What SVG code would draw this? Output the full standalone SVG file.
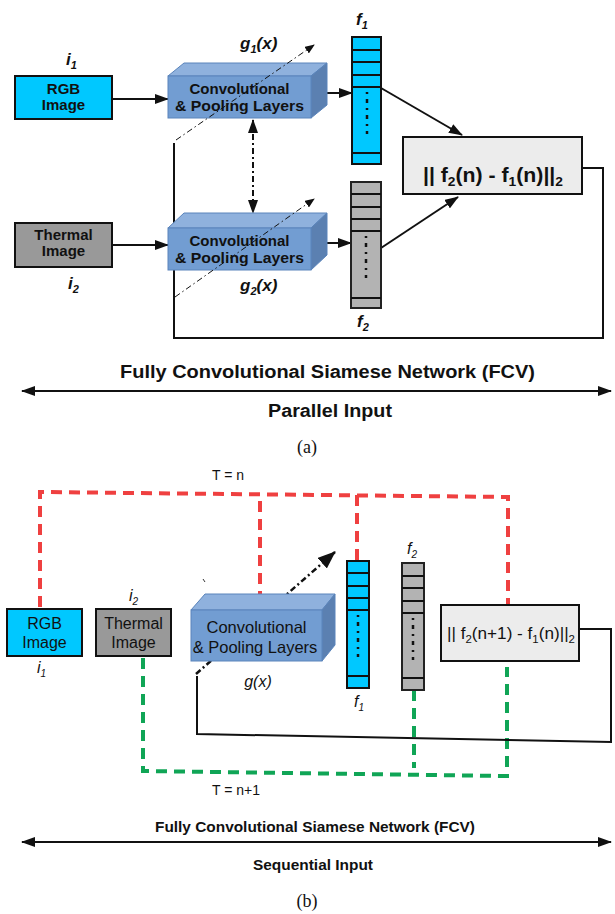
<svg xmlns="http://www.w3.org/2000/svg" width="615" height="914" viewBox="0 0 615 914">
<style>
text{font-family:"Liberation Sans",Arial,sans-serif;fill:#111}
.b{font-weight:bold}
.bi{font-weight:bold;font-style:italic}
.it{font-style:italic}
.box{stroke:#111;stroke-width:2}
.rgb{fill:#00c8ff}
.thr{fill:#999999}
.dist{fill:#ececec}
.front{fill:#729dd2;stroke:#5a84bb;stroke-width:1}
.top{fill:#8fb1dd;stroke:#5a84bb;stroke-width:1}
.side{fill:#5b80b1;stroke:#5a84bb;stroke-width:1}
.vec1{fill:#00c8ff;stroke:#111;stroke-width:2}
.vec2{fill:#b3b3b3;stroke:#222;stroke-width:2}
.cell{stroke:#111;stroke-width:2}
.dots{stroke:#111;stroke-width:2.5;stroke-dasharray:2,5,4,5}
.ln{fill:none;stroke:#111;stroke-width:2}
.red{fill:none;stroke:#ef4040;stroke-width:4;stroke-dasharray:11,7}
.grn{fill:none;stroke:#10a556;stroke-width:4;stroke-dasharray:11,7}
</style>
<defs>
<marker id="ah" viewBox="0 0 14 10" refX="13" refY="5" markerWidth="14" markerHeight="10" markerUnits="userSpaceOnUse" orient="auto-start-reverse"><path d="M0,0 L14,5 L0,10 z" fill="#111"/></marker>
<marker id="ahs" viewBox="0 0 10 8" refX="9" refY="4" markerWidth="10" markerHeight="8" markerUnits="userSpaceOnUse" orient="auto"><path d="M0,0 L10,4 L0,8 z" fill="#111"/></marker>
<marker id="ahb" viewBox="0 0 18 14" refX="17" refY="7" markerWidth="18" markerHeight="14" markerUnits="userSpaceOnUse" orient="auto"><path d="M0,0 L18,7 L0,14 z" fill="#111"/></marker>
</defs>

<!-- ================= (a) ================= -->
<g id="a-connectors">
<path class="ln" d="M583,168 H603 V338 H174 V143"/>
<line class="ln" x1="112" y1="99" x2="168" y2="99" marker-end="url(#ah)"/>
<line class="ln" x1="112" y1="245" x2="168" y2="245" marker-end="url(#ah)"/>
<line class="ln" x1="325" y1="93" x2="352" y2="93" marker-end="url(#ah)"/>
<line class="ln" x1="325" y1="243" x2="351" y2="243" marker-end="url(#ah)"/>
<line class="ln" x1="381" y1="88" x2="462" y2="135" marker-end="url(#ah)"/>
<line class="ln" x1="381" y1="248" x2="458" y2="197" marker-end="url(#ah)"/>
<line x1="253" y1="120" x2="253" y2="213" stroke="#111" stroke-width="2" stroke-dasharray="6,3,2,3" marker-start="url(#ah)" marker-end="url(#ah)"/>
</g>

<g id="a-rgb">
<rect class="box rgb" x="15" y="76" width="97" height="43"/>
<text class="b" x="63.5" y="94" font-size="15" text-anchor="middle">RGB</text>
<text class="b" x="63.5" y="110" font-size="15" text-anchor="middle">Image</text>
<text class="bi" x="66" y="65" font-size="17">i<tspan font-size="11" dy="4">1</tspan></text>
</g>

<g id="a-thermal">
<rect class="box thr" x="15" y="223" width="97" height="44"/>
<text class="b" x="63.5" y="240" font-size="15" text-anchor="middle">Thermal</text>
<text class="b" x="63.5" y="256" font-size="15" text-anchor="middle">Image</text>
<text class="bi" x="68" y="289" font-size="17">i<tspan font-size="11" dy="4">2</tspan></text>
</g>

<g id="a-conv1">
<polygon class="top" points="168,76 184,63 327,63 311,76"/>
<polygon class="side" points="311,76 327,63 327,105 311,118"/>
<rect class="front" x="168" y="76" width="143" height="42"/>
<text class="b" x="239.5" y="94" font-size="15" text-anchor="middle">Convolutional</text>
<text class="b" x="239.5" y="111" font-size="15" text-anchor="middle" textLength="129" lengthAdjust="spacingAndGlyphs">&amp; Pooling Layers</text>
<line x1="176" y1="140" x2="314" y2="45" stroke="#111" stroke-width="1" stroke-dasharray="6,3,1.5,3" marker-end="url(#ahs)"/>
<text class="bi" x="240" y="49" font-size="17">g<tspan font-size="11" dy="4">1</tspan><tspan dy="-4">(x)</tspan></text>
</g>

<g id="a-conv2">
<polygon class="top" points="168,228 184,213 327,213 311,228"/>
<polygon class="side" points="311,228 327,213 327,255 311,270"/>
<rect class="front" x="168" y="228" width="143" height="42"/>
<text class="b" x="239.5" y="246" font-size="15" text-anchor="middle">Convolutional</text>
<text class="b" x="239.5" y="263" font-size="15" text-anchor="middle" textLength="129" lengthAdjust="spacingAndGlyphs">&amp; Pooling Layers</text>
<line x1="175" y1="297" x2="314" y2="199" stroke="#111" stroke-width="1" stroke-dasharray="6,3,1.5,3" marker-end="url(#ahs)"/>
<text class="bi" x="240" y="291" font-size="17">g<tspan font-size="11" dy="4">2</tspan><tspan dy="-4">(x)</tspan></text>
</g>

<g id="a-f1">
<rect class="vec1" x="352" y="37" width="29" height="127"/>
<path class="cell" d="M352,50H381M352,62H381M352,75H381M352,87H381M352,153H381"/>
<line class="dots" x1="367" y1="92" x2="367" y2="134"/>
<text class="bi" x="356" y="25" font-size="17">f<tspan font-size="11" dy="4">1</tspan></text>
</g>

<g id="a-f2">
<rect class="vec2" x="351" y="182" width="30" height="126"/>
<path class="cell" d="M351,194H381M351,207H381M351,219H381M351,231H381M351,298H381"/>
<line class="dots" x1="366" y1="236" x2="366" y2="278"/>
<text class="bi" x="357" y="327" font-size="17">f<tspan font-size="11" dy="4">2</tspan></text>
</g>

<g id="a-dist">
<rect class="box dist" x="403" y="137" width="179" height="57"/>
<text class="b" x="423" y="182" font-size="20" textLength="140" lengthAdjust="spacingAndGlyphs">|| f<tspan font-size="13" dy="4">2</tspan><tspan dy="-4">(n) - f</tspan><tspan font-size="13" dy="4">1</tspan><tspan dy="-4">(n)||</tspan><tspan font-size="13" dy="4">2</tspan></text>
</g>

<g id="a-caption">
<text class="b" x="327.5" y="378" font-size="18" text-anchor="middle" textLength="415" lengthAdjust="spacingAndGlyphs">Fully Convolutional Siamese Network (FCV)</text>
<line class="ln" x1="22" y1="391" x2="611" y2="391" marker-start="url(#ah)" marker-end="url(#ah)"/>
<text class="b" x="330" y="417" font-size="18" text-anchor="middle" textLength="124" lengthAdjust="spacingAndGlyphs">Parallel Input</text>
<text x="307" y="453" font-size="18" text-anchor="middle" style="font-family:'Liberation Serif','Times New Roman',serif">(a)</text>
</g>

<!-- ================= (b) ================= -->
<g id="b-connectors">
<path class="red" d="M40,607 V492 L508,497 V605"/>
<path class="red" d="M260,602 V494"/>
<path class="red" d="M357,560 V495"/>
<path class="grn" d="M143,658 V771 L507,776 V667"/>
<path class="grn" d="M414,690 V768"/>
<path class="ln" d="M580,629 L611,629 V742 L197,734 V676"/>
<line x1="196" y1="674" x2="335" y2="552" stroke="#111" stroke-width="2.5" stroke-dasharray="6,3,2,3" marker-end="url(#ahb)"/>
<line x1="203" y1="579" x2="205" y2="582" stroke="#333" stroke-width="1"/>
</g>

<text x="228" y="480" font-size="14" text-anchor="middle">T = n</text>
<text x="236" y="795" font-size="14" text-anchor="middle">T = n+1</text>

<g id="b-rgb">
<rect class="box rgb" x="7" y="609" width="75" height="47"/>
<text x="44.5" y="629" font-size="16" text-anchor="middle">RGB</text>
<text x="44.5" y="648" font-size="16" text-anchor="middle">Image</text>
<text class="it" x="37" y="673" font-size="16">i<tspan font-size="10" dy="4">1</tspan></text>
</g>

<g id="b-thermal">
<rect class="box thr" x="96" y="609" width="75" height="47"/>
<text x="133.5" y="629" font-size="16" text-anchor="middle">Thermal</text>
<text x="133.5" y="648" font-size="16" text-anchor="middle">Image</text>
<text class="it" x="129" y="601" font-size="16">i<tspan font-size="10" dy="4">2</tspan></text>
</g>

<g id="b-conv">
<polygon class="top" points="191,610 205,594 335,594 322,610"/>
<polygon class="side" points="322,610 335,594 335,645 322,661"/>
<rect class="front" x="191" y="610" width="131" height="51"/>
<text x="256.5" y="633" font-size="16.5" text-anchor="middle">Convolutional</text>
<text x="255" y="653" font-size="16.5" text-anchor="middle">&amp; Pooling Layers</text>
<text class="it" x="258" y="687" font-size="16" text-anchor="middle">g(x)</text>
</g>

<g id="b-f1">
<rect class="vec1" x="347" y="561" width="22" height="127"/>
<path class="cell" d="M347,573H369M347,586H369M347,598H369M347,610H369M347,676H369"/>
<line class="dots" x1="358" y1="615" x2="358" y2="657"/>
<text class="it" x="354" y="707" font-size="16">f<tspan font-size="10" dy="4">1</tspan></text>
</g>

<g id="b-f2">
<rect class="vec2" x="402" y="563" width="22" height="127"/>
<path class="cell" d="M402,576H424M402,588H424M402,601H424M402,613H424M402,678H424"/>
<line class="dots" x1="413" y1="618" x2="413" y2="660"/>
<text class="it" x="407" y="554" font-size="16">f<tspan font-size="10" dy="4">2</tspan></text>
</g>

<g id="b-dist">
<rect class="box dist" x="441" y="605" width="138" height="56"/>
<text x="447" y="639" font-size="16.5" textLength="128" lengthAdjust="spacingAndGlyphs">|| f<tspan font-size="11" dy="4">2</tspan><tspan dy="-4">(n+1) - f</tspan><tspan font-size="11" dy="4">1</tspan><tspan dy="-4">(n)||</tspan><tspan font-size="11" dy="4">2</tspan></text>
</g>

<g id="b-caption">
<text class="b" x="315" y="832" font-size="15" text-anchor="middle" textLength="320" lengthAdjust="spacingAndGlyphs">Fully Convolutional Siamese Network (FCV)</text>
<line class="ln" x1="22" y1="842" x2="611" y2="842" marker-start="url(#ah)" marker-end="url(#ah)"/>
<text class="b" x="313" y="870" font-size="15" text-anchor="middle" textLength="120" lengthAdjust="spacingAndGlyphs">Sequential Input</text>
<text x="307" y="907" font-size="18" text-anchor="middle" style="font-family:'Liberation Serif','Times New Roman',serif">(b)</text>
</g>
</svg>
